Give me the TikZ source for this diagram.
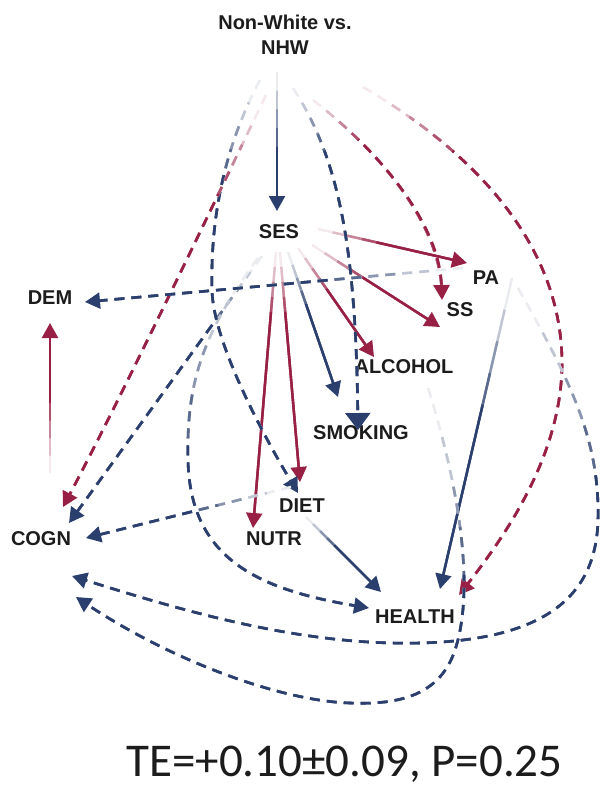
\documentclass[tikz,border=0pt]{standalone}
\usepackage{fontspec}
\setmainfont{Liberation Sans}
\newfontfamily\tefont{Carlito}
\usetikzlibrary{arrows.meta,calc}
\definecolor{cnavy}{RGB}{43,63,110}
\definecolor{ccrim}{RGB}{152,32,68}
\definecolor{ctext}{RGB}{28,28,28}
% #1 colour, #2 start coordinate, #3 fade radius, #4 style, #5 path
\newcommand\fadeedge[5]{%
  \draw[#4,draw=#1!10!white,-,shorten >=9pt] #5;
  \foreach \k/\p in {1/30,2/55,3/78}{%
    \begin{scope}
      \clip (-100,-100) -- (700,-100) -- (700,900) -- (-100,900) -- cycle
            (#2) circle[radius=#3pt*\k/4];
      \draw[#4,draw=#1!\p!white,-,shorten >=9pt] #5;
    \end{scope}
  }%
  \begin{scope}
    \clip (-100,-100) -- (700,-100) -- (700,900) -- (-100,900) -- cycle
          (#2) circle[radius=#3pt];
    \draw[#4,draw=#1] #5;
  \end{scope}
}
\begin{document}
\begin{tikzpicture}[x=1pt,y=-1pt,
  lab/.style={font=\fontsize{20}{25}\selectfont\bfseries, text=ctext, inner sep=0pt},
  ln/.style={line width=2.4pt},
  dl/.style={line width=2.6pt, dash pattern=on 10pt off 7pt},
  tipA/.style={-{Triangle[length=15pt,width=16pt]}},
  tipB/.style={-{Triangle[length=17pt,width=25pt]}}]
\useasboundingbox (0,0) rectangle (600,788);

% nodes
\node[lab, align=center] (NHW) at (285,34.5) {Non-White vs.\\NHW};
\node[lab] (SES) at (279,232) {SES};
\node[lab] (PA) at (486,278) {PA};
\node[lab] (SS) at (460,310) {SS};
\node[lab] (DEM) at (50,298) {DEM};
\node[lab] (ALC) at (404,367) {ALCOHOL};
\node[lab] (SMO) at (361,433) {SMOKING};
\node[lab] (DIET) at (302,506) {DIET};
\node[lab] (NUTR) at (274,539) {NUTR};
\node[lab] (COGN) at (41,539) {COGN};
\node[lab] (HEALTH) at (415,617) {HEALTH};
\node[font=\tefont\fontsize{47}{54}\selectfont, text=ctext, anchor=base, inner sep=0pt] (TE) at (344.5,776) {TE=+0.10±0.09, P=0.25};

% connector ends
\coordinate (n1) at ($(NHW)+(-8,37.5)$);
\coordinate (n2) at ($(NHW)+(-19,60.5)$);
\coordinate (n3) at ($(NHW)+(-25,45.5)$);
\coordinate (n4) at ($(NHW)+(8,53.5)$);
\coordinate (n5) at ($(NHW)+(28,65.5)$);
\coordinate (n6) at ($(NHW)+(78,52.5)$);
\coordinate (t-ses) at ($(SES)+(-2,-21)$);
\coordinate (s-pa) at ($(SES)+(39,-3)$);
\coordinate (s-ss) at ($(SES)+(33,13)$);
\coordinate (s-al) at ($(SES)+(19,16)$);
\coordinate (s-sm) at ($(SES)+(9,20)$);
\coordinate (s-di) at ($(SES)+(1,20)$);
\coordinate (s-nu) at ($(SES)+(-3,20)$);
\coordinate (s-co) at ($(SES)+(-17,24)$);
\coordinate (s-he) at ($(SES)+(-21,26)$);
\coordinate (t-pa) at ($(PA)+(-19,-15)$);
\coordinate (p-de) at ($(PA)+(-23,-10)$);
\coordinate (p-he) at ($(PA)+(26,0)$);
\coordinate (p-co) at ($(PA)+(32,10)$);
\coordinate (t-ss1) at ($(SS)+(-18,-10)$);
\coordinate (t-ss2) at ($(SS)+(-20,17)$);
\coordinate (t-al) at ($(ALC)+(-30,-10)$);
\coordinate (a-co) at ($(ALC)+(24,21)$);
\coordinate (t-sm1) at ($(SMO)+(-23,-36)$);
\coordinate (t-sm2) at ($(SMO)+(-3,-3)$);
\coordinate (t-di1) at ($(DIET)+(-2,-24)$);
\coordinate (t-di2) at ($(DIET)+(-4,-13)$);
\coordinate (d-co) at ($(DIET)+(-11,-19)$);
\coordinate (d-he) at ($(DIET)+(4,11)$);
\coordinate (t-nu) at ($(NUTR)+(-21,-11)$);
\coordinate (t-co1) at ($(COGN)+(22,-32)$);
\coordinate (t-co2) at ($(COGN)+(28,-16)$);
\coordinate (t-co3) at ($(COGN)+(45,-1)$);
\coordinate (t-co4) at ($(COGN)+(31,37)$);
\coordinate (t-co5) at ($(COGN)+(35,58)$);
\coordinate (c-de) at ($(COGN)+(9,-66)$);
\coordinate (t-de1) at ($(DEM)+(35,4)$);
\coordinate (t-de2) at ($(DEM)+(0,25)$);
\coordinate (t-he1) at ($(HEALTH)+(44,-22)$);
\coordinate (t-he2) at ($(HEALTH)+(-46,-9)$);
\coordinate (t-he3) at ($(HEALTH)+(-34,-25)$);
\coordinate (t-he4) at ($(HEALTH)+(25,-28)$);

% connectors
\fadeedge{cnavy}{n1}{75}{ln,tipA}{(n1) -- (t-ses)}
\fadeedge{ccrim}{s-pa}{60}{ln,tipA}{(s-pa) -- (t-pa)}
\fadeedge{ccrim}{s-ss}{60}{ln,tipA}{(s-ss) -- (t-ss2)}
\fadeedge{ccrim}{s-al}{50}{ln,tipA}{(s-al) -- (t-al)}
\fadeedge{cnavy}{s-sm}{55}{ln,tipA}{(s-sm) -- (t-sm1)}
\fadeedge{ccrim}{s-di}{60}{ln,tipA}{(s-di) -- (t-di1)}
\fadeedge{ccrim}{s-nu}{60}{ln,tipA}{(s-nu) -- (t-nu)}
\fadeedge{cnavy}{s-co}{80}{dl,tipA}{(s-co) -- (t-co2)}
\fadeedge{cnavy}{s-he}{200}{dl,tipA}{(s-he) .. controls (205,330) and (186,380) .. (188,460) .. controls (190,560) and (260,590) .. (t-he2)}
\fadeedge{cnavy}{n3}{100}{dl,tipA}{(n3) .. controls (228,140) and (210,210) .. (212,290) .. controls (213,340) and (260,430) .. (t-di2)}
\fadeedge{ccrim}{n2}{110}{dl,tipA}{(n2) .. controls (230,170) and (120,400) .. (t-co1)}
\fadeedge{cnavy}{n4}{70}{dl,tipB}{(n4) .. controls (340,160) and (356,250) .. (t-sm2)}
\fadeedge{ccrim}{n5}{60}{dl,tipA}{(n5) .. controls (390,160) and (440,230) .. (t-ss1)}
\fadeedge{ccrim}{n6}{110}{dl,tipA}{(n6) .. controls (470,150) and (560,240) .. (562,360) .. controls (563,450) and (510,530) .. (t-he1)}
\fadeedge{cnavy}{p-de}{130}{dl,tipA}{(p-de) -- (t-de1)}
\fadeedge{cnavy}{p-he}{130}{ln,tipA}{(p-he) -- (t-he4)}
\fadeedge{cnavy}{p-co}{200}{dl,tipA}{(p-co) .. controls (570,380) and (600,440) .. (598,520) .. controls (596,600) and (540,640) .. (420,643) .. controls (300,646) and (180,610) .. (t-co4)}
\fadeedge{cnavy}{a-co}{190}{dl,tipA}{(a-co) .. controls (460,490) and (475,590) .. (455,650) .. controls (440,695) and (400,705) .. (350,703) .. controls (280,701) and (170,660) .. (t-co5)}
\fadeedge{ccrim}{c-de}{70}{ln,tipA}{(c-de) -- (t-de2)}
\fadeedge{cnavy}{d-co}{100}{dl,tipA}{(d-co) -- (t-co3)}
\fadeedge{cnavy}{d-he}{40}{ln,tipA}{(d-he) -- (t-he3)}
\end{tikzpicture}
\end{document}
